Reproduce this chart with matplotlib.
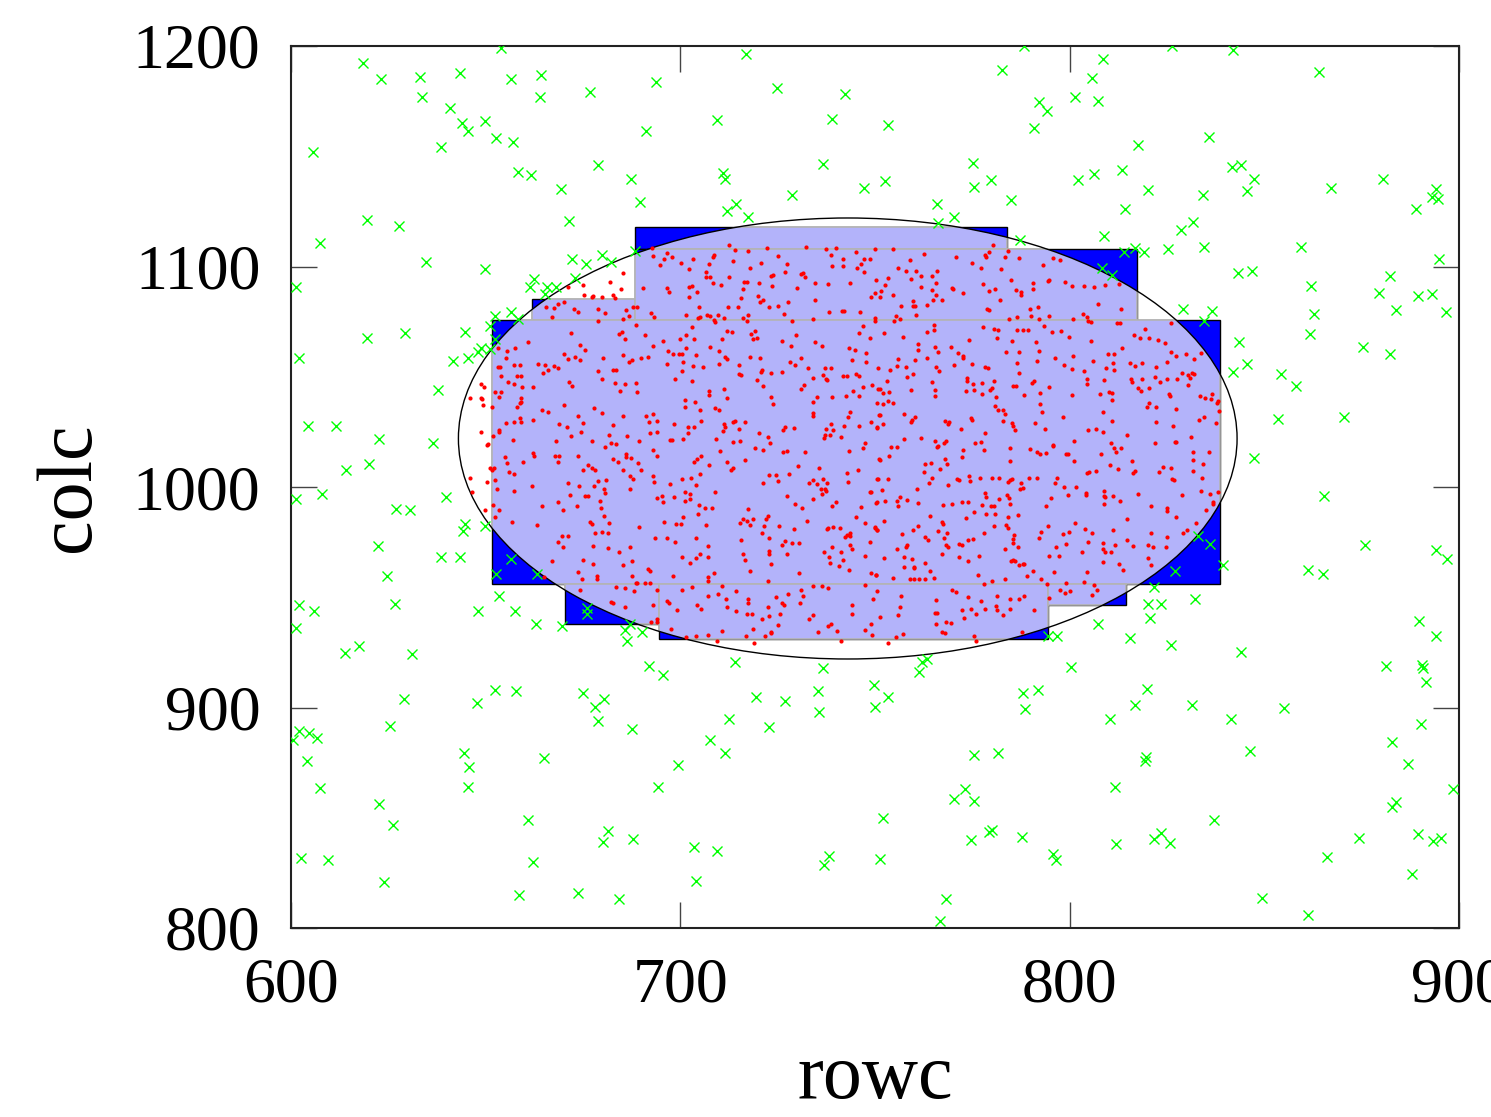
import numpy as np
import matplotlib
matplotlib.use('Agg')
from matplotlib import pyplot as plt
from matplotlib.patches import Rectangle, Ellipse

plt.rcParams['font.family'] = ['Liberation Serif', 'DejaVu Serif']

#%% data
# frames (rowc, colc extents)
rect_x0 = [661.9, 688.4, 688.4, 651.7, 670.4, 694.6, 794.5]
rect_x1 = [688.4, 783.8, 817.4, 838.6, 694.6, 794.5, 814.4]
rect_y0 = [1075.7, 1107.8, 1075.7, 955.9, 937.7, 930.9, 946.5]
rect_y1 = [1085.3, 1117.9, 1107.8, 1075.7, 955.9, 955.9, 955.9]

# selection circle
circ_x = 743.0
circ_y = 1022.0
circ_r = 100.0

# objects outside the circle
green_xy = [
    (618.6,1192.4),(623.2,1185.2),(633.1,1185.8),(633.6,1176.7),(643.3,1187.6),(653.9,1199.1),(656.6,1185.2),
    (664.2,1186.7),(664.0,1176.7),(640.8,1171.7),(643.9,1165.2),(645.5,1161.6),(649.9,1166.0),(652.6,1158.3),
    (656.9,1156.6),(638.6,1154.0),(605.7,1152.1),(658.2,1143.0),(661.6,1141.5),(669.3,1135.3),(671.5,1120.6),
    (619.4,1121.1),(627.7,1118.4),(607.4,1110.7),(634.8,1102.2),(649.9,1098.7),(672.3,1103.4),(673.0,1094.8),
    (601.2,1090.5),(662.3,1094.3),(661.4,1090.7),(665.8,1090.7),(668.0,1090.8),(665.3,1087.4),(656.4,1079.4),
    (652.5,1077.6),(658.2,1076.3),(651.1,1073.0),(652.4,1067.3),(644.7,1070.1),(629.3,1069.8),(619.4,1067.4),
    (676.8,1179.0),(693.8,1183.7),(716.9,1196.2),(724.9,1181.1),(742.2,1178.1),(691.1,1161.3),(709.5,1166.4),
    (739.0,1166.9),(678.9,1146.2),(687.3,1139.8),(711.0,1142.6),(711.5,1139.5),(736.6,1146.3),(747.1,1135.4),
    (689.6,1129.4),(728.8,1132.4),(711.9,1125.3),(714.4,1128.5),(717.4,1122.3),(675.8,1101.0),(680.0,1105.2),
    (682.1,1102.0),(688.4,1107.2),
    (788.3,1200.0),(808.6,1194.3),(782.7,1189.1),(805.8,1185.3),(801.3,1176.7),(807.4,1175.0),(792.0,1174.7),
    (794.3,1170.7),(790.8,1162.7),(753.3,1164.0),(817.6,1154.9),(775.2,1146.9),(752.6,1138.8),(775.4,1135.9),
    (779.9,1139.1),(802.1,1139.4),(806.3,1142.1),(813.4,1143.6),(820.2,1134.5),(785.0,1130.0),(814.3,1126.2),
    (765.9,1128.2),(770.2,1122.3),(766.2,1119.7),(787.2,1112.2),(808.7,1113.7),(814.0,1106.4),(816.9,1108.4),
    (819.2,1106.4),(825.2,1108.1),(808.3,1099.2),(810.9,1096.3),
    (826.2,1200.0),(841.9,1198.2),(864.0,1188.4),(835.7,1158.6),(841.6,1145.1),(843.9,1146.0),(847.4,1139.5),
    (845.6,1134.1),(834.3,1132.6),(867.2,1135.4),(880.4,1139.5),(894.2,1135.0),(893.0,1131.7),(894.7,1130.7),
    (889.0,1126.2),(831.8,1120.2),(828.7,1116.4),(834.6,1108.8),(859.4,1109.0),(894.8,1103.6),(843.2,1096.9),
    (846.9,1097.8),(882.4,1095.5),(861.9,1091.3),(879.4,1088.0),(889.5,1086.7),(893.1,1087.4),(883.9,1080.1),
    (896.6,1079.4),(829.2,1080.6),(836.6,1079.7),(834.6,1075.4),(862.7,1078.3),(861.8,1069.5),
    (602.1,1058.7),(641.6,1057.1),(645.5,1058.7),(648.0,1061.4),(648.7,1063.2),(651.1,1062.4),(637.7,1044.0),
    (604.3,1027.5),(611.6,1027.5),(622.5,1021.6),(636.6,1020.1),(620.0,1010.6),(614.2,1007.9),(608.0,996.8),
    (601.2,994.6),(639.9,995.6),(627.0,989.9),(630.6,989.4),(644.7,983.2),(644.1,980.2),(649.9,982.5),
    (622.3,973.4),(638.4,968.4),(643.3,968.4),(656.6,967.5),(624.7,959.5),(652.7,960.7),(663.3,960.7),
    (602.0,946.5),(605.9,943.6),(626.6,946.9),(653.5,950.6),(648.1,943.9),(657.5,943.6),(663.0,937.7),
    (669.6,937.1),(601.4,935.9),
    (675.9,945.3),(676.1,942.3),(687.2,937.7),(685.8,935.1),(690.1,934.4),(686.4,930.3),
    (821.7,954.5),(820.0,947.1),(823.4,947.1),(820.6,940.7),(807.2,938.0),
    (843.5,1065.6),(875.3,1063.7),(882.4,1060.5),(841.9,1052.0),(845.6,1055.6),(854.2,1051.1),(858.1,1045.8),
    (853.5,1030.8),(870.4,1031.6),(847.4,1013.0),(865.4,996.1),(833.0,977.9),(836.1,974.1),(827.1,961.9),
    (839.4,964.8),(875.9,973.5),(894.0,971.6),(897.0,967.2),(861.1,962.2),(865.1,960.4),(832.3,949.4),
    (889.6,939.1),
    (613.9,924.6),(617.5,927.9),(631.2,924.3),(629.1,904.0),(647.7,901.9),(652.4,907.8),(657.8,907.5),
    (625.3,891.5),(602.0,889.3),(604.6,888.3),(606.8,886.2),(600.6,885.2),(604.2,875.6),(644.5,879.2),
    (645.8,872.9),(645.4,864.1),(665.0,876.9),(607.5,863.6),(622.6,856.1),(626.3,846.6),(661.0,848.8),
    (602.6,831.7),(609.5,830.8),(662.2,829.8),(623.9,820.9),(658.5,815.0),(673.6,815.9),
    (692.0,918.8),(695.6,914.9),(714.1,920.8),(736.6,918.1),(749.8,910.0),(749.9,900.4),(675.1,906.4),
    (680.4,903.7),(678.0,900.2),(678.8,893.7),(687.7,890.4),(719.5,904.6),(727.0,902.9),(735.3,907.3),
    (735.6,897.8),(712.5,894.6),(722.9,891.3),(707.5,885.1),(711.5,879.2),(699.3,873.8),(694.3,863.8),
    (681.5,844.2),(680.2,838.8),(687.9,840.4),(703.6,836.7),(709.4,834.9),(738.2,832.6),(736.8,828.6),
    (704.1,821.2),(684.3,813.1),
    (794.5,932.4),(796.7,932.4),(815.5,931.4),(826.0,928.3),(762.0,920.8),(763.3,921.8),(761.4,916.3),
    (800.3,918.2),(753.4,904.6),(788.0,906.4),(791.8,907.8),(788.4,899.2),(819.8,908.2),(816.7,901.1),
    (810.3,894.6),(775.5,878.6),(781.5,879.5),(819.5,877.4),(819.3,875.7),(811.7,864.1),(773.0,863.2),
    (770.3,858.7),(775.3,857.7),(752.1,849.7),(774.6,840.0),(779.3,843.5),(780.0,844.4),(787.7,841.4),
    (795.7,833.4),(796.5,830.7),(812.0,838.1),(821.7,840.2),(823.4,842.9),(825.8,838.4),(751.3,831.1),
    (768.2,813.3),(766.8,803.3),
    (844.1,925.2),(894.2,932.4),(881.2,918.8),(890.4,919.1),(890.8,918.1),(891.6,911.6),(831.4,901.3),
    (841.4,894.6),(855.1,899.6),(846.2,880.1),(890.3,892.6),(882.8,884.5),(886.9,874.5),(898.5,862.9),
    (882.7,855.0),(883.8,857.0),(837.2,849.1),(874.4,840.8),(866.1,832.3),(889.5,842.8),(893.4,839.3),
    (895.5,840.8),(887.9,824.5),(849.5,813.6),(861.1,805.9),
]

# objects inside the circle
red_xy = [
    (685.8,1067.1),(695.6,1066.2),(699.9,1067.1),(701.4,1068.9),(703.6,1067.1),(710.8,1067.1),(718.7,1067.1),
    (719.6,1067.7),(726.1,1066.3),(729.7,1068.9),(734.5,1065.9),(736.4,1064.1),(743.4,1062.9),(744.9,1062.2),
    (747.6,1060.6),(748.8,1067.7),(675.5,1062.1),(692.9,1063.8),(696.8,1061.6),(698.2,1060.1),(699.6,1060.3),
    (700.4,1060.3),(701.4,1063.2),(704.0,1059.8),(707.6,1063.3),(710.0,1061.6),(711.6,1058.9),(712.0,1058.0),
    (717.9,1059.1),(720.4,1058.3),(728.4,1064.1),(731.0,1058.6),(680.2,1058.6),(685.3,1059.8),(687.6,1057.4),
    (686.9,1056.5),(689.9,1058.6),(691.7,1058.8),(696.5,1055.6),(700.7,1056.5),(703.3,1055.0),(705.9,1054.5),
    (710.0,1055.6),(715.1,1055.3),(728.1,1056.5),(729.5,1055.3),(732.7,1053.8),(737.2,1054.1),(738.7,1054.1),
    (744.1,1057.4),(747.6,1056.8),(750.8,1053.8),(674.2,1057.6),(678.9,1052.6),(682.8,1052.9),(683.6,1052.9),
    (680.0,1049.2),(683.2,1047.0),(685.8,1046.8),(688.5,1047.1),(684.5,1043.5),(688.8,1042.9),(698.6,1048.8),
    (700.3,1052.6),(703.0,1048.0),(707.4,1043.5),(707.4,1041.7),(711.2,1044.3),(711.9,1040.2),(715.1,1051.1),
    (715.5,1050.8),(719.7,1048.5),(720.9,1053.0),(720.8,1052.0),(723.3,1051.5),(726.2,1052.0),(721.3,1045.9),
    (723.3,1040.9),(723.7,1037.8),(731.0,1044.4),(731.7,1046.2),(734.0,1049.5),(735.0,1040.9),(734.0,1038.7),
    (736.7,1050.8),(737.3,1049.2),(737.6,1048.5),(738.9,1040.9),(741.7,1050.2),(742.9,1050.2),(745.1,1051.1),
    (745.9,1050.3),(746.9,1045.5),(744.4,1043.5),(745.9,1041.4),(749.2,1046.2),(750.8,1044.4),(742.5,1041.2),
    (677.9,1035.9),(679.8,1033.7),(685.2,1032.3),(691.3,1032.2),(692.9,1032.9),(692.0,1029.3),(693.9,1029.9),
    (692.3,1024.3),(694.1,1024.9),(698.3,1028.5),(697.4,1021.1),(697.9,1021.3),(700.8,1021.7),(701.3,1036.1),
    (701.1,1039.4),(703.8,1038.7),(705.0,1035.0),(709.0,1035.9),(709.9,1034.9),(705.4,1029.9),(701.9,1027.2),
    (703.4,1027.2),(702.0,1024.3),(711.2,1028.7),(711.6,1027.2),(710.9,1025.4),(713.6,1029.3),(714.0,1030.0),
    (716.7,1029.6),(715.1,1026.3),(720.2,1024.3),(722.4,1022.8),(723.0,1019.8),(713.4,1020.2),(715.4,1020.8),
    (709.1,1021.7),(726.4,1025.8),(727.0,1027.3),(729.1,1026.9),(734.0,1033.4),(734.0,1032.3),(737.3,1026.3),
    (738.7,1028.5),(739.3,1025.8),(737.1,1023.5),(738.4,1023.5),(736.9,1022.0),(741.2,1022.6),(742.0,1027.6),
    (743.0,1031.9),(743.5,1033.8),(746.0,1027.6),(749.1,1029.3),(750.4,1027.0),(750.9,1032.6),(675.1,1028.8),
    (674.6,1025.1),(682.8,1028.1),(681.8,1023.8),(677.4,1021.0),(682.2,1019.8),(683.4,1019.5),(680.6,1018.1),
    (686.2,1023.2),(689.4,1021.0),(693.0,1016.7),(694.1,1013.9),(686.0,1014.9),(686.0,1013.6),(687.4,1013.1),
    (682.7,1012.5),(683.9,1011.3),(689.0,1010.7),(690.0,1007.5),(685.3,1007.5),(676.4,1009.9),(677.4,1008.7),
    (678.0,1007.7),(675.1,1007.7),(710.2,1016.3),(707.4,1009.9),(705.0,1006.0),(703.6,1011.4),(704.2,1012.7),
    (705.2,1013.9),(711.9,1011.3),(713.4,1008.4),(713.1,1007.8),(716.5,1012.1),(719.2,1017.8),(721.2,1016.9),
    (726.4,1016.0),(727.4,1016.3),(732.1,1016.0),(730.3,1009.5),(735.7,1008.7),(742.8,1006.5),(743.4,1016.3),
    (745.7,1007.7),(747.4,1019.9),(747.0,1017.8),(751.0,1012.8),(678.9,1002.7),(680.9,1003.1),(680.5,998.9),
    (680.7,997.5),(677.7,1000.6),(675.5,995.7),(676.3,996.0),(687.2,1005.1),(687.9,1003.6),(687.0,999.0),
    (693.1,1004.8),(693.2,1002.1),(697.3,1001.2),(700.3,1003.6),(702.8,1004.2),(704.1,1000.9),(701.2,997.8),
    (701.3,993.8),(702.5,994.4),(702.5,996.6),(695.3,996.0),(694.1,994.8),(695.5,993.3),(698.3,995.3),
    (708.9,997.8),(706.4,990.7),(708.1,990.4),(704.9,991.8),(724.5,1005.4),(725.0,1002.7),(722.7,1005.4),
    (721.2,1001.9),(728.0,1006.0),(733.0,1001.9),(734.0,1003.4),(735.0,1001.3),(736.1,999.2),(737.2,999.2),
    (736.7,1003.6),(737.7,1001.9),(737.3,998.1),(736.3,996.6),(743.1,1002.1),(750.6,1003.6),(748.7,997.8),
    (749.1,997.7),(727.5,995.7),(729.5,992.4),(731.3,990.3),(734.1,994.5),(740.0,993.0),(739.0,991.6),
    (746.4,991.0),(750.3,992.8),(679.3,993.8),(679.6,990.6),(680.5,986.8),(681.7,983.5),(676.8,984.2),
    (677.3,983.2),(678.1,979.2),(679.8,979.7),(681.5,979.2),(689.4,981.7),(695.9,984.1),(698.9,983.2),
    (700.1,983.2),(700.6,986.5),(704.5,987.9),(706.6,982.9),(693.5,977.0),(696.7,977.0),(698.7,974.9),
    (704.1,976.7),(707.2,973.2),(715.6,975.8),(716.1,985.6),(717.3,989.8),(715.3,983.8),(717.0,984.5),
    (718.0,982.7),(718.7,985.7),(721.4,982.3),(721.9,985.7),(722.6,986.8),(721.0,979.2),(722.8,976.7),
    (725.3,982.4),(726.0,973.9),(727.0,975.6),(729.1,981.0),(728.8,974.5),(730.4,974.7),(732.5,984.8),
    (737.7,981.1),(738.0,981.5),(739.3,982.0),(741.0,981.2),(742.3,977.4),(742.8,978.2),(743.5,979.2),
    (743.7,977.7),(745.2,986.5),(747.5,983.9),(749.9,982.0),(750.4,980.5),(748.8,975.2),(744.1,972.0),
    (677.5,973.2),(681.3,972.4),(687.1,972.6),(684.3,970.5),(687.5,966.5),(685.2,964.6),(677.6,965.3),
    (675.1,967.1),(678.7,959.7),(678.7,958.5),(687.6,959.7),(691.6,962.8),(692.3,962.0),(690.8,956.3),
    (688.8,956.3),(692.3,956.6),(698.1,959.7),(700.5,968.1),(702.4,965.5),(704.0,967.9),(705.1,969.4),
    (707.2,968.1),(708.6,961.0),(707.1,959.0),(707.1,957.3),(716.2,969.7),(716.7,967.1),(717.9,962.0),
    (722.7,970.9),(722.9,969.7),(723.4,965.0),(722.6,957.3),(727.4,969.6),(730.6,961.0),(736.9,970.6),
    (738.2,968.4),(738.5,965.6),(738.9,972.9),(740.7,964.1),(741.2,970.5),(741.7,967.0),(743.4,962.2),
    (747.5,968.8),(748.9,961.1),(750.2,960.0),(743.5,973.9),(674.2,953.2),(683.4,954.7),(685.8,954.4),
    (688.2,952.8),(688.5,956.3),(682.3,947.9),(682.6,947.5),(685.8,945.7),(692.9,946.7),(694.1,953.2),
    (693.9,940.1),(694.1,938.6),(692.4,938.6),(696.6,948.2),(697.1,947.5),(699.1,944.2),(702.9,954.7),
    (700.3,953.2),(704.3,946.7),(705.4,944.6),(707.1,950.4),(709.7,951.3),(710.6,955.2),(711.7,949.4),
    (712.1,945.7),(714.2,952.8),(714.4,943.7),(717.3,949.4),(717.3,947.5),(718.4,942.6),(717.0,942.6),
    (721.1,940.1),(722.4,945.4),(722.8,941.6),(724.5,950.2),(725.5,942.2),(726.1,947.2),(726.5,946.7),
    (727.6,951.3),(730.8,947.2),(731.1,953.2),(731.6,950.7),(734.1,955.2),(736.5,955.2),(738.0,954.4),
    (734.2,941.9),(733.0,940.1),(735.4,934.3),(737.8,937.0),(738.7,937.7),(740.3,934.6),(744.0,946.4),
    (744.2,942.2),(749.1,938.0),(749.5,949.4),(750.4,952.8),(747.4,955.7),(747.5,935.1),(725.0,937.4),
    (723.2,934.3),(718.7,935.6),(710.7,934.6),(697.7,935.4),
    (757.3,1068.1),(761.0,1064.7),(761.1,1062.1),(765.4,1063.5),(766.3,1061.3),(769.5,1063.6),(771.4,1060.9),
    (772.7,1059.5),(772.7,1058.3),(774.1,1066.6),(781.4,1067.7),(783.6,1061.3),(785.1,1066.2),(787.0,1061.0),
    (791.3,1065.9),(792.0,1061.8),(796.2,1058.6),(799.9,1068.1),(800.9,1059.5),(805.6,1066.2),(806.1,1057.1),
    (809.9,1060.1),(811.5,1060.1),(813.4,1063.2),(816.5,1068.9),(818.1,1067.7),(820.4,1067.4),(822.8,1066.6),
    (824.5,1065.1),(825.9,1061.3),(756.0,1058.0),(760.3,1057.4),(763.4,1058.6),(753.9,1053.0),(755.6,1055.0),
    (757.9,1054.2),(759.8,1051.4),(758.1,1050.0),(765.7,1054.4),(766.4,1052.6),(770.3,1055.3),(774.8,1055.6),
    (778.2,1054.5),(779.1,1053.8),(786.5,1056.2),(787.1,1051.8),(791.5,1057.1),(798.5,1055.3),(800.5,1053.6),
    (803.8,1052.7),(809.3,1053.8),(811.2,1056.2),(811.3,1053.0),(815.4,1056.3),(816.7,1054.7),(818.5,1056.2),
    (822.2,1054.5),(824.9,1056.8),(753.0,1048.0),(751.4,1044.3),(752.1,1042.7),(753.6,1043.2),(759.2,1043.9),
    (764.6,1047.4),(765.4,1043.9),(765.4,1041.2),(773.7,1049.5),(773.7,1048.2),(775.1,1046.7),(773.5,1043.5),
    (775.3,1043.9),(777.5,1047.0),(777.6,1042.1),(780.6,1048.2),(780.0,1044.7),(779.6,1043.9),(781.2,1040.6),
    (785.4,1045.9),(786.3,1045.9),(788.3,1041.8),(790.2,1047.0),(790.8,1047.9),(792.4,1042.7),(794.7,1045.5),
    (800.5,1041.7),(804.5,1046.5),(804.5,1049.2),(808.9,1048.6),(807.9,1042.4),(810.2,1042.9),(811.0,1042.6),
    (811.0,1039.3),(815.7,1049.2),(815.9,1047.6),(817.6,1045.0),(818.4,1043.6),(818.5,1048.9),(820.3,1044.9),
    (821.8,1050.0),(823.1,1047.7),(825.0,1049.2),(825.6,1042.1),(825.8,1041.4),(750.4,1038.1),(752.1,1037.5),
    (753.3,1039.0),(754.5,1037.9),(751.3,1032.6),(757.4,1033.1),(759.4,1030.3),(759.2,1029.3),(760.3,1031.9),
    (768.1,1029.9),(768.8,1028.5),(769.0,1029.3),(772.1,1026.3),(774.7,1031.4),(774.8,1030.3),(780.8,1036.8),
    (781.7,1034.9),(782.8,1034.9),(783.4,1032.9),(783.0,1029.9),(785.2,1029.1),(785.4,1027.8),(785.9,1025.8),
    (791.1,1028.8),(792.5,1037.8),(792.9,1034.1),(798.4,1031.6),(793.7,1026.1),(804.8,1025.7),(806.8,1026.3),
    (808.6,1025.1),(808.6,1034.0),(810.9,1029.9),(814.6,1023.5),(819.8,1036.5),(820.4,1037.9),(822.2,1036.5),
    (822.2,1029.4),(826.6,1027.8),(752.1,1028.5),(750.4,1026.9),(754.1,1018.3),(755.6,1018.1),(757.5,1021.6),
    (761.8,1022.2),(765.4,1020.8),(765.8,1018.1),(767.7,1019.8),(768.2,1020.8),(766.3,1018.4),(772.5,1016.7),
    (772.4,1013.6),(775.7,1020.1),(777.1,1020.2),(778.2,1024.6),(751.4,1012.1),(753.7,1014.2),(762.8,1010.4),
    (764.3,1010.8),(766.7,1008.0),(768.1,1012.7),(768.4,1010.4),(778.0,1016.7),(784.7,1017.5),(784.8,1011.7),
    (789.8,1017.2),(791.7,1015.7),(792.4,1015.1),(793.9,1015.2),(795.8,1019.0),(795.6,1018.4),(799.0,1015.1),
    (799.5,1014.9),(801.0,1020.8),(801.2,1011.9),(808.0,1015.1),(810.6,1019.8),(811.5,1017.5),(811.8,1015.7),
    (813.3,1017.5),(810.4,1009.9),(812.5,1008.1),(815.9,1011.9),(816.8,1007.2),(821.8,1020.1),(824.1,1009.2),
    (825.9,1008.7),(827.0,1020.5),(823.0,1006.9),(804.9,1006.6),(806.8,1007.4),(750.7,1003.6),(753.4,1003.6),
    (751.7,998.6),(760.7,999.3),(762.7,1006.9),(763.9,1001.6),(764.6,1004.3),(768.8,1000.9),(771.1,1003.6),
    (771.6,1003.0),(774.2,1005.1),(774.3,1002.7),(777.0,1004.3),(780.0,1004.3),(781.8,1003.9),(784.1,1002.4),
    (784.8,1003.3),(785.1,1003.6),(787.4,1001.9),(787.3,999.3),(787.9,999.5),(789.5,1004.3),(791.7,1003.9),
    (796.7,1003.9),(796.2,1001.9),(798.6,1000.1),(801.7,999.9),(799.5,996.3),(804.1,997.5),(804.2,996.2),
    (804.4,1006.2),(808.9,998.0),(808.7,995.9),(809.2,995.3),(811.1,995.9),(812.9,993.8),(816.3,1006.5),
    (817.5,996.9),(826.4,1003.6),(750.4,993.3),(752.6,993.8),(755.6,993.8),(756.4,995.3),(755.8,991.2),
    (758.3,994.2),(761.1,992.7),(767.5,991.8),(769.9,992.2),(772.3,993.1),(773.9,993.1),(777.4,991.9),
    (778.3,997.1),(778.5,995.6),(779.8,991.2),(780.6,991.2),(781.8,994.4),(783.8,996.3),(784.4,994.8),
    (784.6,992.2),(793.8,991.5),(795.1,994.8),(808.7,992.1),(814.6,985.4),(820.8,991.3),(825.0,990.3),
    (825.1,989.1),(752.3,984.8),(759.7,980.6),(761.0,982.3),(764.2,986.8),(766.1,980.1),(767.1,984.2),
    (767.5,983.0),(767.8,977.0),(768.5,979.1),(773.5,985.9),(775.4,988.8),(778.6,987.7),(780.8,987.7),
    (780.6,982.3),(783.6,982.7),(784.2,981.5),(784.1,986.5),(786.8,987.1),(792.0,976.8),(792.6,979.4),
    (794.5,982.1),(798.2,978.5),(799.8,979.5),(801.4,983.9),(803.9,981.1),(805.8,979.2),(804.8,975.0),
    (811.1,980.6),(811.6,973.6),(814.7,975.8),(816.2,973.3),(820.8,979.1),(824.9,977.4),(750.0,981.5),
    (750.4,980.4),(757.0,978.8),(755.6,972.1),(757.9,972.6),(758.3,973.8),(762.8,977.3),(763.7,975.9),
    (768.2,973.9),(768.8,972.7),(771.7,974.1),(772.4,973.6),(773.8,975.9),(775.2,976.4),(778.1,979.1),
    (785.4,976.4),(785.8,978.3),(785.4,974.4),(786.7,973.0),(796.6,973.0),(799.0,974.1),(808.5,974.6),
    (808.6,972.1),(809.1,970.6),(820.1,973.6),(821.4,973.0),(824.7,973.0),(752.2,967.9),(757.5,968.1),
    (759.5,967.4),(757.4,963.8),(760.1,963.8),(759.9,963.1),(762.8,965.5),(764.0,961.9),(767.2,969.4),
    (771.6,968.2),(774.0,966.4),(776.7,968.7),(783.3,972.1),(784.9,966.5),(786.0,966.5),(787.0,964.6),
    (787.9,964.9),(788.3,965.3),(785.4,966.8),(789.1,959.7),(790.5,961.9),(792.6,958.2),(794.7,968.7),
    (797.3,968.8),(795.9,961.4),(803.1,970.5),(804.5,961.3),(808.5,966.1),(810.5,970.6),(812.7,965.3),
    (813.8,962.2),(820.1,967.9),(821.0,964.6),(750.3,960.0),(754.5,958.7),(759.0,958.1),(760.1,958.5),
    (761.3,958.4),(762.8,958.2),(765.2,958.7),(776.5,960.3),(780.0,957.3),(783.4,958.1),(777.9,956.0),
    (794.3,955.8),(797.6,953.2),(798.8,951.9),(800.1,952.9),(799.1,956.6),(803.8,957.0),(806.3,955.5),
    (806.9,953.2),(805.7,951.1),(769.9,953.2),(770.9,952.6),(756.8,950.4),(765.7,948.7),(773.8,949.9),
    (777.2,948.5),(781.3,950.4),(784.7,949.4),(787.0,949.3),(788.2,950.5),(794.7,949.7),(751.3,941.1),
    (755.9,941.9),(756.5,945.7),(765.4,943.0),(766.0,942.7),(772.4,944.0),(774.6,944.5),(772.9,940.5),
    (776.0,942.3),(778.2,944.5),(781.0,946.0),(781.3,944.0),(783.0,941.9),(784.8,944.6),(790.9,944.0),
    (765.7,938.0),(768.2,938.9),(769.6,938.4),(757.3,933.4),(767.1,934.3),(768.0,933.9),(787.8,934.3),
    (701.5,932.1),(703.9,932.4),(707.0,933.0),(709.4,930.2),(716.9,932.4),(718.9,929.1),(721.7,932.6),
    (723.3,933.6),(741.2,930.2),(749.3,932.9),(753.3,929.1),(755.3,931.8),(775.3,932.6),(775.9,930.2),
    (653.1,1062.9),(655.5,1061.8),(657.5,1063.2),(661.0,1065.9),(655.2,1058.6),(653.2,1054.2),(653.7,1054.2),
    (657.4,1055.3),(658.9,1055.3),(653.9,1050.2),(655.8,1047.7),(658.1,1050.5),(659.1,1050.5),(657.4,1046.5),
    (659.4,1045.2),(662.2,1045.2),(648.8,1046.5),(649.5,1045.3),(652.4,1043.2),(654.0,1042.9),(653.3,1040.9),
    (646.0,1040.2),(648.9,1040.5),(649.0,1039.7),(649.3,1037.2),(651.7,1036.4),(659.2,1040.5),(658.1,1036.4),
    (658.8,1037.9),(659.2,1038.7),(655.3,1029.0),(657.4,1029.6),(658.9,1031.1),(659.2,1029.6),(662.2,1030.3),
    (648.9,1025.1),(653.4,1025.8),(653.3,1025.1),(652.0,1023.1),(656.9,1021.1),(650.3,1019.0),(650.7,1019.5),
    (655.0,1013.6),(655.6,1010.7),(657.4,1005.7),(656.1,1006.9),(659.6,1011.3),(662.5,1014.2),(662.1,1015.4),
    (651.0,1008.4),(651.5,1007.7),(652.1,1008.4),(652.3,1003.0),(645.9,1003.9),(650.3,1002.2),(652.8,999.3),
    (657.4,998.1),(661.8,1000.4),(646.4,997.8),(652.0,991.9),(653.3,989.7),(649.9,989.7),(652.5,986.5),
    (656.8,984.2),(663.2,982.6),(664.5,991.2),(668.5,993.0),(669.9,989.7),(673.5,991.2),(671.7,996.3),
    (673.9,1000.4),(671.1,1001.9),(663.5,1056.0),(665.2,1055.3),(666.1,1052.9),(667.5,1054.8),(668.7,1053.8),
    (664.6,1051.7),(670.0,1060.3),(671.1,1058.0),(673.0,1059.1),(674.2,1064.4),(671.4,1047.7),(672.1,1045.8),
    (670.1,1037.3),(664.4,1034.9),(666.1,1034.1),(668.8,1028.4),(670.8,1027.3),(673.8,1032.3),(671.8,1023.2),
    (668.1,1020.8),(668.8,1014.2),(667.8,1014.2),(668.5,1011.4),(673.8,1014.2),(669.7,977.7),(671.1,977.6),
    (668.5,974.9),(669.8,973.0),(667.1,966.4),(673.6,961.6),(674.7,958.5),(665.1,959.1),
    (827.3,1059.4),(829.9,1060.3),(832.0,1057.9),(833.7,1060.9),(828.8,1051.5),(830.3,1050.8),(831.3,1051.8),
    (832.0,1051.2),(830.9,1049.5),(827.5,1048.8),(830.3,1046.1),(833.5,1041.1),(834.8,1040.2),(836.3,1040.0),
    (836.5,1042.3),(837.8,1038.2),(838.2,1039.1),(838.4,1034.4),(827.4,1035.2),(833.1,1030.6),(834.4,1031.7),
    (837.6,1029.1),(831.1,1022.8),(827.3,1020.5),(831.6,1015.7),(835.9,1015.7),(831.6,1012.3),(834.3,1010.4),
    (831.6,1007.4),(833.9,1004.3),(826.7,1003.1),(833.7,998.4),(836.0,996.6),(838.1,997.7),(828.8,996.3),
    (836.8,993.3),(836.7,992.5),(835.0,989.7),(827.4,986.5),(832.5,983.9),(829.2,979.2),(830.1,980.3),
    (712.5,1109.9),(714.0,1107.5),(717.5,1106.9),(722.2,1108.5),(732.2,1108.7),(737.4,1107.9),(740.0,1108.5),
    (745.1,1106.7),(750.0,1107.8),(692.6,1108.2),(693.0,1104.9),(696.6,1106.3),(695.7,1103.5),(697.9,1104.3),
    (700.1,1101.4),(703.2,1103.4),(708.3,1104.4),(708.6,1105.2),(713.4,1102.6),(707.4,1101.1),(702.1,1098.7),
    (694.9,1100.7),(690.4,1090.1),(696.5,1090.1),(697.2,1088.6),(702.3,1090.5),(703.0,1091.1),(704.2,1088.6),
    (702.1,1086.3),(706.5,1097.6),(706.6,1095.4),(707.5,1095.4),(708.5,1092.3),(710.5,1091.7),(712.6,1095.4),
    (716.3,1093.0),(717.2,1093.0),(716.0,1089.8),(717.8,1099.3),(720.6,1101.4),(720.2,1092.5),(723.5,1091.3),
    (723.2,1095.8),(723.9,1096.1),(725.0,1104.6),(727.0,1097.3),(727.5,1101.1),(730.0,1090.1),(731.1,1096.6),
    (732.0,1095.1),(731.4,1096.9),(734.6,1092.5),(737.8,1092.2),(738.7,1105.2),(738.9,1100.4),(741.9,1103.5),
    (741.8,1100.2),(743.5,1092.5),(745.5,1099.1),(746.4,1101.0),(747.3,1103.4),(748.8,1103.2),(747.1,1097.3),
    (750.3,1093.9),(750.0,1087.8),(749.0,1086.0),(734.5,1084.8),(720.0,1086.6),(721.3,1084.8),(720.5,1083.7),
    (715.5,1085.5),(712.2,1081.8),(714.9,1081.8),(704.9,1081.8),(701.5,1077.8),(704.5,1076.8),(705.0,1076.9),
    (706.8,1077.8),(707.6,1077.4),(708.6,1075.7),(711.1,1076.5),(708.8,1074.7),(709.7,1077.8),(716.0,1076.5),
    (717.3,1077.8),(717.0,1075.3),(711.9,1070.7),(713.2,1070.4),(719.3,1070.7),(722.8,1081.8),(725.0,1082.2),
    (727.6,1083.9),(726.7,1078.3),(728.8,1075.3),(734.2,1076.0),(738.3,1079.3),(741.4,1079.8),(742.1,1079.8),
    (746.2,1079.3),(750.0,1076.8),(749.9,1075.3),(746.9,1073.1),(745.8,1070.0),(692.4,1078.7),(693.2,1077.2),
    (687.9,1081.8),(688.8,1081.6),(686.0,1080.2),(685.4,1076.3),(686.9,1077.5),(688.5,1073.6),(690.8,1069.1),
    (685.1,1070.3),(684.3,1069.5),(702.9,1072.4),(718.1,1069.4),(678.8,1080.9),(680.6,1079.0),(678.9,1075.2),
    (681.9,1092.8),(685.4,1096.9),(684.8,1089.6),(683.2,1085.5),(682.6,1087.1),(679.9,1086.0),(677.6,1086.8),
    (677.3,1086.3),(675.1,1091.4),(675.3,1086.9),
    (754.5,1107.9),(762.7,1105.8),(770.7,1104.4),(778.2,1105.2),(778.6,1104.4),(779.4,1106.4),(780.2,1109.9),
    (784.2,1107.0),(783.5,1104.3),(787.1,1103.7),(793.2,1100.5),(795.8,1103.8),(797.6,1102.9),(758.9,1102.9),
    (755.8,1099.2),(758.0,1098.1),(760.6,1098.0),(753.3,1094.9),(759.2,1094.3),(761.7,1095.8),(764.6,1095.7),
    (765.8,1098.0),(765.7,1092.3),(761.7,1090.8),(752.6,1091.6),(751.5,1089.0),(754.6,1087.2),(751.4,1086.3),
    (756.8,1082.1),(759.7,1084.3),(759.7,1082.2),(760.4,1082.2),(763.4,1082.5),(765.0,1084.8),(765.6,1086.9),
    (764.6,1089.3),(767.1,1084.9),(760.5,1077.8),(755.3,1077.5),(756.5,1076.0),(754.9,1075.4),(769.9,1090.2),
    (770.1,1089.8),(772.7,1088.1),(775.0,1101.4),(777.1,1099.3),(782.4,1098.7),(785.0,1094.0),(777.7,1092.0),
    (779.2,1088.9),(780.9,1089.9),(782.0,1084.6),(786.3,1089.3),(787.5,1088.3),(787.6,1087.1),(789.7,1080.6),
    (791.8,1081.5),(778.7,1080.7),(779.2,1080.3),(784.5,1076.0),(786.6,1077.2),(790.0,1077.5),(792.2,1076.3),
    (794.7,1077.4),(790.7,1089.6),(790.7,1092.3),(794.4,1093.6),(794.7,1093.9),(798.9,1093.1),(800.5,1091.3),
    (803.6,1091.3),(806.3,1090.5),(809.0,1091.7),(812.7,1092.0),(807.2,1082.8),(813.1,1080.5),(793.3,1073.0),
    (800.8,1076.3),(803.5,1078.4),(804.5,1077.1),(804.8,1075.4),(805.6,1075.0),(812.1,1074.5),(813.0,1074.2),
    (765.1,1073.5),(765.1,1071.2),(763.3,1070.1),(752.4,1069.7),(777.8,1072.7),(780.5,1071.6),(781.6,1071.2),
    (786.6,1071.2),(788.1,1071.2),(789.3,1071.2),(795.4,1070.3),(797.7,1070.6),(819.3,1071.6),(825.9,1074.5),
    (671.2,1090.5),(665.6,1081.5),(667.6,1081.0),(668.5,1083.0),(670.0,1083.9),(672.6,1080.8),(673.8,1079.3),
    (667.0,1076.9),(671.8,1069.7),
]

#%% set up figure
fig = plt.figure(figsize=(14.91, 11.17), dpi=100)
ax = fig.add_axes([291/1491, 1 - 928/1117, 1168/1491, 882/1117])

# dark frames
for k in range(len(rect_x0)):
    ax.add_patch(Rectangle((rect_x0[k], rect_y0[k]), rect_x1[k] - rect_x0[k], rect_y1[k] - rect_y0[k],
                           facecolor='#0000ff', edgecolor='black', lw=1.0, zorder=1))

# light part of the frames inside the circle
circ_clip = Ellipse((circ_x, circ_y), 2*circ_r, 2*circ_r, transform=ax.transData)
for k in range(len(rect_x0)):
    p = Rectangle((rect_x0[k], rect_y0[k]), rect_x1[k] - rect_x0[k], rect_y1[k] - rect_y0[k],
                  facecolor='#b3b3fa', edgecolor='#b4b4b4', lw=1.2, zorder=2)
    ax.add_patch(p)
    p.set_clip_path(circ_clip)

ax.add_patch(Ellipse((circ_x, circ_y), 2*circ_r, 2*circ_r, facecolor='none', edgecolor='black',
                     lw=1.0, zorder=3))

g = np.array(green_xy)
r = np.array(red_xy)
ax.plot(g[:, 0], g[:, 1], 'x', color='#00ff00', ms=6.5, mew=1.0, zorder=4)
ax.plot(r[:, 0], r[:, 1], 'o', color='#ff0000', ms=3.0, mew=0, zorder=5)

ax.set_xlim([600, 900])
ax.set_ylim([800, 1200])
ax.set_xticks([600, 700, 800, 900])
ax.set_yticks([800, 900, 1000, 1100, 1200])

ax.tick_params(direction='in', length=18.5, width=1.0, color='#444444', top=True, right=True,
               labelsize=46)
ax.tick_params(axis='x', pad=21)
ax.tick_params(axis='y', pad=22)
for s in ax.spines.values():
    s.set_linewidth(1.5)
    s.set_color('#222222')

ax.set_xlabel('rowc', fontsize=56)
ax.set_ylabel('colc', fontsize=56)
ax.xaxis.label.set_va('center')
ax.yaxis.label.set_va('center')
ax.xaxis.set_label_coords(0.5, -0.172)
ax.yaxis.set_label_coords(-0.189, 0.5)

plt.savefig('out.png', dpi=100)
